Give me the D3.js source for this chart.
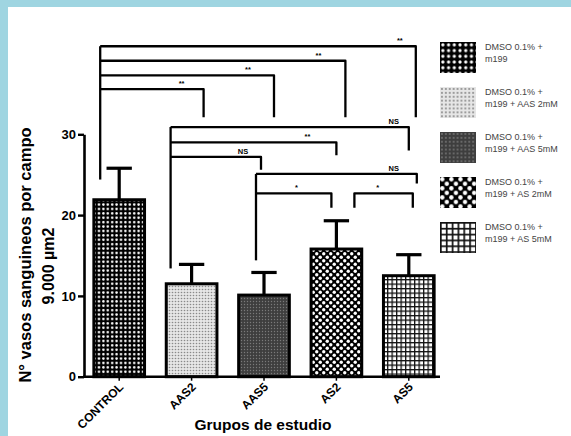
<!DOCTYPE html>
<html>
<head>
<meta charset="utf-8">
<script src="https://cdn.jsdelivr.net/npm/d3@7"></script>
<style>
  html, body { margin: 0; padding: 0; background: #fff; }
  svg { display: block; }
</style>
</head>
<body>
<script>
// Study groups, mean vessel counts and upper error (SEM)
const groups = ["CONTROL", "AAS2", "AAS5", "AS2", "AS5"];
const means = [21.9, 11.5, 10.1, 15.8, 12.5];
const errors = [3.9, 2.4, 2.8, 3.5, 2.6];
const yTicks = [0, 10, 20, 30];

const legendLine1 = ["DMSO 0.1% +", "DMSO 0.1% +", "DMSO 0.1% +", "DMSO 0.1% +", "DMSO 0.1% +"];
const legendLine2 = ["m199", "m199 + AAS 2mM", "m199 + AAS 5mM", "m199 + AS 2mM", "m199 + AS 5mM"];

// Pairwise comparisons: bracket height and end of the drop leg, in y-axis units
const comparisons = [
  { from: "CONTROL", to: "AS5",  label: "**", level: 40.9, drop: 32.1 },
  { from: "CONTROL", to: "AS2",  label: "**", level: 39.1, drop: 32.1 },
  { from: "CONTROL", to: "AAS5", label: "**", level: 37.3, drop: 32.1 },
  { from: "CONTROL", to: "AAS2", label: "**", level: 35.6, drop: 32.1 },
  { from: "AAS2", to: "AS5",  label: "NS", level: 30.9, drop: 28.0 },
  { from: "AAS2", to: "AS2",  label: "**", level: 29.0, drop: 27.4 },
  { from: "AAS2", to: "AAS5", label: "NS", level: 27.2, drop: 25.6 },
  { from: "AAS5", to: "AS5",  label: "NS", level: 25.1, drop: 23.9 },
  { from: "AAS5", to: "AS2",  label: "*",  level: 22.7, drop: 20.9 }
];
// Shared vertical stems of each comparison family (bottom end in y-axis units)
const stems = [
  { group: "CONTROL", bottom: 24.4 },
  { group: "AAS2", bottom: 13.4 },
  { group: "AAS5", bottom: 14.4 }
];
// Stand-alone bracket with both legs dropping
const pairBracket = { from: "AS2", to: "AS5", label: "*", level: 22.7, drop: 20.9 };

// Horizontal nudges (px) of bracket ends relative to bar centres
const stemNudge = { CONTROL: -19, AAS2: -21, AAS5: -8 };
const endNudge = [7, 9, 10, 12, 0, 0, -3, 8, -5];
const labelNudge = [-16, -27, -26, -22, -15, -29, -18, -23, -35];

const W = 571, H = 436;
const svg = d3.select("body").append("svg").attr("width", W).attr("height", H);

// Frame
const frame = "#9fd5e1";
svg.append("rect").attr("width", W).attr("height", H).attr("fill", frame);
svg.append("rect").attr("x", 8).attr("y", 7).attr("width", W - 8).attr("height", H - 7).attr("fill", "#fff");

// Fill patterns
const defs = svg.append("defs");
function makePatterns(suffix, s) {
  // CONTROL: black with white dots
  let p = defs.append("pattern").attr("id", "pCtrl" + suffix).attr("patternUnits", "userSpaceOnUse")
    .attr("width", 4.4 * s).attr("height", 4.4 * s);
  p.append("rect").attr("width", 4.4 * s).attr("height", 4.4 * s).attr("fill", "#000");
  p.append("circle").attr("cx", 2.2 * s).attr("cy", 2.2 * s).attr("r", 1.25 * s).attr("fill", "#fff");
  // AAS2: light stipple
  p = defs.append("pattern").attr("id", "pAAS2" + suffix).attr("patternUnits", "userSpaceOnUse")
    .attr("width", 3 * s).attr("height", 3 * s);
  p.append("rect").attr("width", 3 * s).attr("height", 3 * s).attr("fill", "#e6e6e6");
  p.append("circle").attr("cx", 1.5 * s).attr("cy", 1.5 * s).attr("r", 0.8 * s).attr("fill", "#8a8a8a");
  // AAS5: dark fine texture
  p = defs.append("pattern").attr("id", "pAAS5" + suffix).attr("patternUnits", "userSpaceOnUse")
    .attr("width", 3 * s).attr("height", 3 * s);
  p.append("rect").attr("width", 3 * s).attr("height", 3 * s).attr("fill", "#3e3e3e");
  p.append("circle").attr("cx", 1.5 * s).attr("cy", 1.5 * s).attr("r", 0.7 * s).attr("fill", "#7a7a7a");
  // AS2: black with larger offset white dots
  p = defs.append("pattern").attr("id", "pAS2" + suffix).attr("patternUnits", "userSpaceOnUse")
    .attr("width", 7 * s).attr("height", 7 * s);
  p.append("rect").attr("width", 7 * s).attr("height", 7 * s).attr("fill", "#000");
  p.append("circle").attr("cx", 1.75 * s).attr("cy", 1.75 * s).attr("r", 1.7 * s).attr("fill", "#fff");
  p.append("circle").attr("cx", 5.25 * s).attr("cy", 5.25 * s).attr("r", 1.7 * s).attr("fill", "#fff");
  // AS5: black grid on white
  p = defs.append("pattern").attr("id", "pAS5" + suffix).attr("patternUnits", "userSpaceOnUse")
    .attr("width", 4.5 * s).attr("height", 4.5 * s);
  p.append("rect").attr("width", 4.5 * s).attr("height", 4.5 * s).attr("fill", "#fff");
  p.append("rect").attr("x", 0).attr("y", 0).attr("width", 1.3 * s).attr("height", 4.5 * s).attr("fill", "#111");
  p.append("rect").attr("x", 0).attr("y", 0).attr("width", 4.5 * s).attr("height", 1.3 * s).attr("fill", "#111");
}
makePatterns("", 1);
makePatterns("L", 1.3);
const patternIds = ["pCtrl", "pAAS2", "pAAS5", "pAS2", "pAS5"];

// Scales
const x = d3.scaleBand().domain(groups).range([83, 445]).paddingInner(0.3).paddingOuter(0.15);
const y = d3.scaleLinear().domain([0, 30]).range([376.7, 134.3]);
const cx = g => x(g) + x.bandwidth() / 2;

// Bars
svg.append("g").selectAll("rect").data(groups).join("rect")
  .attr("x", d => x(d))
  .attr("y", (d, i) => y(means[i]))
  .attr("width", x.bandwidth())
  .attr("height", (d, i) => y(0) - y(means[i]))
  .attr("fill", (d, i) => `url(#${patternIds[i]})`)
  .attr("stroke", "#000").attr("stroke-width", 3);

// Upper error bars
const eb = svg.append("g").attr("stroke", "#000").attr("stroke-width", 3.2);
eb.selectAll("line.v").data(groups).join("line").attr("class", "v")
  .attr("x1", d => cx(d)).attr("x2", d => cx(d))
  .attr("y1", (d, i) => y(means[i])).attr("y2", (d, i) => y(means[i] + errors[i]));
eb.selectAll("line.c").data(groups).join("line").attr("class", "c")
  .attr("x1", d => cx(d) - x.bandwidth() / 4).attr("x2", d => cx(d) + x.bandwidth() / 4)
  .attr("y1", (d, i) => y(means[i] + errors[i])).attr("y2", (d, i) => y(means[i] + errors[i]));

// Y axis
const yAxis = svg.append("g").attr("transform", "translate(84,0)")
  .call(d3.axisLeft(y).tickValues(yTicks).tickSize(6).tickSizeOuter(0).tickPadding(2));
yAxis.select(".domain").attr("stroke", "#000").attr("stroke-width", 2.6);
yAxis.selectAll(".tick line").attr("stroke", "#000").attr("stroke-width", 2.4);
yAxis.selectAll(".tick text").attr("font-family", "Liberation Sans, Arial, sans-serif")
  .attr("font-weight", "bold").attr("font-size", 13).attr("fill", "#000");

// X axis
const xAxis = svg.append("g").attr("transform", `translate(0,${y(0)})`)
  .call(d3.axisBottom(x).tickSize(4).tickSizeOuter(0));
xAxis.select(".domain").attr("d", "M83,0H440").attr("stroke", "#000").attr("stroke-width", 2.6);
xAxis.selectAll(".tick line").attr("stroke", "#000").attr("stroke-width", 1.5);
xAxis.selectAll(".tick text")
  .attr("font-family", "Liberation Sans, Arial, sans-serif").attr("font-weight", "bold")
  .attr("font-size", 12).attr("fill", "#000")
  .attr("text-anchor", "end").attr("dy", 0).attr("y", 0)
  .attr("transform", "translate(5,11) rotate(-45)");

// Axis titles
const tf = "Liberation Sans, Arial, sans-serif";
svg.append("text").attr("x", 263).attr("y", 430).attr("text-anchor", "middle")
  .attr("font-family", tf).attr("font-weight", "bold").attr("font-size", 15.5)
  .text("Grupos de estudio");
svg.append("text").attr("transform", "translate(31,255) rotate(-90)").attr("text-anchor", "middle")
  .attr("font-family", tf).attr("font-weight", "bold").attr("font-size", 16.5)
  .text("N° vasos sanguineos por campo");
svg.append("text").attr("transform", "translate(54,266) rotate(-90)").attr("text-anchor", "middle")
  .attr("font-family", tf).attr("font-weight", "bold").attr("font-size", 16)
  .text("9.000 µm2");

// Significance brackets
const br = svg.append("g").attr("fill", "none").attr("stroke", "#000").attr("stroke-width", 2.3)
  .attr("stroke-linejoin", "round");
const stemTop = {};
comparisons.forEach(c => { stemTop[c.from] = Math.max(stemTop[c.from] || -Infinity, c.level); });
stems.forEach(s => {
  br.append("line")
    .attr("x1", cx(s.group) + stemNudge[s.group]).attr("x2", cx(s.group) + stemNudge[s.group])
    .attr("y1", y(stemTop[s.group])).attr("y2", y(s.bottom));
});
const lab = svg.append("g").attr("font-family", tf).attr("font-weight", "bold").attr("font-size", 7.5)
  .attr("text-anchor", "middle").attr("fill", "#000");
comparisons.forEach((c, i) => {
  const x0 = cx(c.from) + stemNudge[c.from];
  const x1 = cx(c.to) + endNudge[i];
  br.append("path").attr("d", `M${x0},${y(c.level)}H${x1}V${y(c.drop)}`);
  lab.append("text").attr("x", x1 + labelNudge[i]).attr("y", y(c.level) - 3).text(c.label);
});
{
  const b = pairBracket;
  const x0 = cx(b.from) + 18, x1 = cx(b.to) + 4;
  br.append("path").attr("d", `M${x0},${y(b.drop)}V${y(b.level)}H${x1}V${y(b.drop)}`);
  lab.append("text").attr("x", (x0 + x1) / 2 - 6).attr("y", y(b.level) - 3).text(b.label);
}

// Legend
const lg = svg.append("g").attr("transform", "translate(440,42)");
const item = lg.selectAll("g").data(groups).join("g").attr("transform", (d, i) => `translate(0,${i * 45})`);
item.append("rect").attr("width", 36).attr("height", 31).attr("fill", (d, i) => `url(#${patternIds[i]}L)`);
item.append("text").attr("x", 45).attr("y", 8).attr("font-family", tf).attr("font-size", 9)
  .attr("fill", "#444").text((d, i) => legendLine1[i]);
item.append("text").attr("x", 45).attr("y", 20).attr("font-family", tf).attr("font-size", 9)
  .attr("fill", "#444").text((d, i) => legendLine2[i]);
</script>
</body>
</html>
